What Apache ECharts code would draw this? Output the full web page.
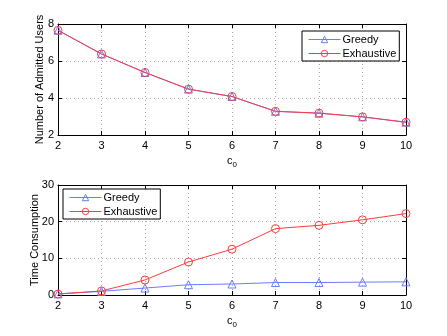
<!DOCTYPE html>
<html><head><meta charset="utf-8">
<script src="https://cdn.jsdelivr.net/npm/echarts@6/dist/echarts.min.js"></script>
<style>html,body{margin:0;padding:0;background:#fff}#c{width:447px;height:336px}</style>
</head><body><div id="c"></div>
<script>
const c0 = [2, 3, 4, 5, 6, 7, 8, 9, 10];
const usersGreedy = [7.66, 6.38, 5.38, 4.48, 4.08, 3.28, 3.18, 2.98, 2.69];
const usersExhaustive = [7.66, 6.38, 5.38, 4.48, 4.08, 3.28, 3.18, 2.98, 2.69];
const timeGreedy = [0.3, 1.0, 1.9, 2.8, 3.0, 3.4, 3.4, 3.5, 3.6];
const timeExhaustive = [0.27, 1.1, 4.1, 9.0, 12.5, 18.1, 19.0, 20.5, 22.2];

const FONT = 'Liberation Sans';
const BLUE = '#6b7cff';
const RED = '#ff3b3b';
const pairs = (xs, ys) => xs.map((x, i) => [x, ys[i]]);

function xAx(gi, pos, labels) {
  return {
    type: 'value', gridIndex: gi, position: pos, min: 2, max: 10, interval: 1,
    axisLine: {show: true, onZero: false, lineStyle: {color: '#000', width: 1}},
    axisTick: {show: true, inside: true, length: 4, lineStyle: {color: '#000'}},
    axisLabel: {show: labels, color: '#000', fontFamily: FONT, fontSize: 11, margin: 5},
    splitLine: {show: labels, lineStyle: {color: '#aaa', type: [1, 3], width: 1}},
    name: labels ? 'c{s|0}' : '', nameLocation: 'middle', nameGap: 18, nameMoveOverlap: false,
    nameTextStyle: {color: '#000', fontFamily: FONT, fontSize: 11, rich: {s: {fontSize: 8, verticalAlign: 'bottom', padding: [8, 0, 0, 0], fontFamily: FONT, color: '#000'}}}
  };
}
function yAx(gi, pos, labels, min, max, iv, name, gap) {
  return {
    type: 'value', gridIndex: gi, position: pos, min: min, max: max, interval: iv,
    axisLine: {show: true, onZero: false, lineStyle: {color: '#000', width: 1}},
    axisTick: {show: true, inside: true, length: 4, lineStyle: {color: '#000'}},
    axisLabel: {show: labels, color: '#000', fontFamily: FONT, fontSize: 11, margin: 4},
    splitLine: {show: labels, lineStyle: {color: '#aaa', type: [1, 3], width: 1}},
    name: labels ? name : '', nameLocation: 'middle', nameGap: gap, nameMoveOverlap: false,
    nameTextStyle: {color: '#000', fontFamily: FONT, fontSize: 11}
  };
}
function ser(name, xi, yi, data, color, sym) {
  return {
    name: name, type: 'line', xAxisIndex: xi, yAxisIndex: yi, data: data,
    symbol: sym, symbolSize: 8, showAllSymbol: true,
    lineStyle: {color: color, width: 1},
    itemStyle: {color: 'rgba(255,255,255,0)', borderColor: color, borderWidth: 1},
    emphasis: {disabled: true}, animation: false
  };
}
function leg(names, left, top) {
  return {
    data: names.map(n => ({name: n})), left: left, top: top, orient: 'vertical',
    itemWidth: 32, itemHeight: 8, itemGap: 1, padding: [2, 3, 1, 6],
    borderColor: '#000', borderWidth: 1, borderRadius: 0, backgroundColor: '#fff',
    lineStyle: {width: 1}, itemStyle: {borderWidth: 1, color: 'rgba(255,255,255,0)'},
    textStyle: {fontFamily: FONT, fontSize: 11, color: '#000', lineHeight: 13, padding: [0, 0, 0, -3]},
    formatter: n => n.replace('2', ''), selectedMode: false
  };
}

const chart = echarts.init(document.getElementById('c'), null, {renderer: 'canvas'});
chart.setOption({
  animation: false,
  backgroundColor: '#fff',
  grid: [
    {left: 58, right: 41, top: 24, height: 111, containLabel: false},
    {left: 58, right: 41, top: 185, height: 110, containLabel: false}
  ],
  xAxis: [xAx(0, 'bottom', true), xAx(0, 'top', false), xAx(1, 'bottom', true), xAx(1, 'top', false)],
  yAxis: [
    yAx(0, 'left', true, 2, 8, 2, 'Number of Admitted Users', 13),
    yAx(0, 'right', false, 2, 8, 2, '', 0),
    yAx(1, 'left', true, 0, 30, 10, 'Time Consumption', 18),
    yAx(1, 'right', false, 0, 30, 10, '', 0)
  ],
  legend: [
    leg(['Greedy', 'Exhaustive'], 302, 31),
    leg(['Greedy2', 'Exhaustive2'], 63, 189)
  ],
  series: [
    ser('Greedy', 0, 0, pairs(c0, usersGreedy), BLUE, 'triangle'),
    ser('Exhaustive', 0, 0, pairs(c0, usersExhaustive), RED, 'circle'),
    ser('Greedy2', 2, 2, pairs(c0, timeGreedy), BLUE, 'triangle'),
    ser('Exhaustive2', 2, 2, pairs(c0, timeExhaustive), RED, 'circle')
  ]
});
</script></body></html>
